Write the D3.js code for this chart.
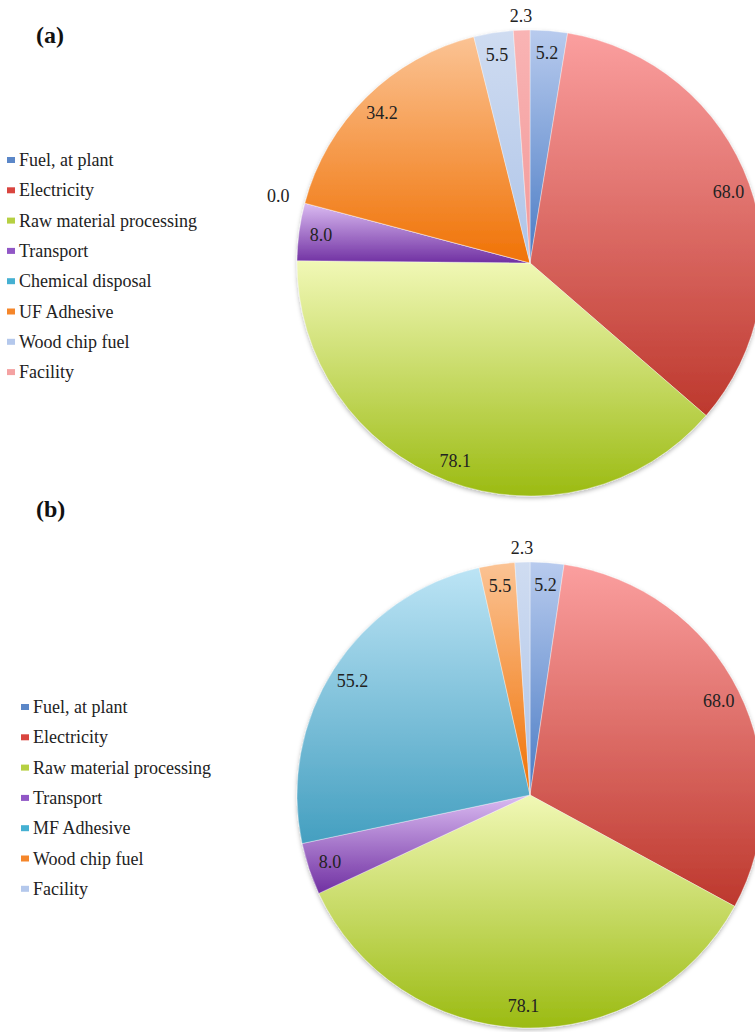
<!DOCTYPE html>
<html>
<head>
<meta charset="utf-8">
<script src="https://d3js.org/d3.v7.min.js"></script>
<style>
  body { margin: 0; background: #fff; }
  text { font-family: "Liberation Serif", "Times New Roman", serif; }
</style>
</head>
<body>
<svg id="chart" width="755" height="1032"></svg>
<script>
// (a) UF adhesive board
const categoriesA = ["Fuel, at plant", "Electricity", "Raw material processing", "Transport",
                     "Chemical disposal", "UF Adhesive", "Wood chip fuel", "Facility"]
const valuesA = [5.2, 68.0, 78.1, 8.0, 0.0, 34.2, 5.5, 2.3]
const colorIdxA = [0, 1, 2, 3, 4, 5, 6, 7]

// (b) MF adhesive board
const categoriesB = ["Fuel, at plant", "Electricity", "Raw material processing", "Transport",
                     "MF Adhesive", "Wood chip fuel", "Facility"]
const valuesB = [5.2, 68.0, 78.1, 8.0, 55.2, 5.5, 2.3]
const colorIdxB = [0, 1, 2, 3, 4, 5, 6]

// gradient colours, top -> bottom, plus legend swatch colour
const palette = [
    { top: "#b8cbee", bottom: "#4a7bc4", key: "#5b87c8" },
    { top: "#fb9f9f", bottom: "#bd382d", key: "#d9453f" },
    { top: "#f1f8b6", bottom: "#9bbb12", key: "#b6d042" },
    { top: "#dbbcf2", bottom: "#7030a2", key: "#9157c6" },
    { top: "#bce4f5", bottom: "#449fc0", key: "#45b0d2" },
    { top: "#fbc394", bottom: "#f07205", key: "#f5862a" },
    { top: "#cfdcf1", bottom: "#aec4e8", key: "#b4c8ec" },
    { top: "#f9b4b4", bottom: "#f29898", key: "#f4a2a2" }
]

const svg = d3.select("#chart")
const defs = svg.append("defs")

palette.forEach((c, i) => {
    const grad = defs.append("linearGradient")
        .attr("id", "grad" + i)
        .attr("x1", 0).attr("y1", 0).attr("x2", 0).attr("y2", 1)
    grad.append("stop").attr("offset", "0%").attr("stop-color", c.top)
    grad.append("stop").attr("offset", "100%").attr("stop-color", c.bottom)
})

const shadow = defs.append("filter").attr("id", "shadow")
    .attr("x", "-10%").attr("y", "-10%").attr("width", "120%").attr("height", "120%")
shadow.append("feDropShadow")
    .attr("dx", 0).attr("dy", 2).attr("stdDeviation", 2)
    .attr("flood-color", "#000").attr("flood-opacity", 0.28)

const radius = 233

function drawPie(cx, cy, values, colorIdx) {
    const g = svg.append("g").attr("transform", `translate(${cx},${cy})`)
    const arcs = d3.pie().sort(null)(values)
    const arc = d3.arc().innerRadius(0).outerRadius(radius)

    g.append("g").attr("filter", "url(#shadow)")
        .selectAll("path")
        .data(arcs)
        .join("path")
        .attr("d", arc)
        .attr("fill", (d, i) => `url(#grad${colorIdx[i]})`)
        .attr("stroke", "#fff")
        .attr("stroke-width", 0.6)
        .attr("stroke-opacity", 0.6)

    g.selectAll("text.value")
        .data(arcs)
        .join("text")
        .attr("class", "value")
        .attr("transform", d => {
            const a = (d.startAngle + d.endAngle) / 2
            const span = d.endAngle - d.startAngle
            const dist = span < 0.1 ? radius + 14 + 14 * Math.abs(Math.sin(a)) : radius - 22
            return `translate(${dist * Math.sin(a)},${-dist * Math.cos(a)})`
        })
        .attr("text-anchor", "middle")
        .attr("dy", "0.35em")
        .attr("font-size", 18)
        .attr("fill", "#222")
        .text(d => d3.format(".1f")(d.data))
}

function drawLegend(x, y, categories, colorIdx) {
    const legend = svg.append("g").attr("transform", `translate(${x},${y})`)
    const rows = legend.selectAll("g")
        .data(categories)
        .join("g")
        .attr("transform", (d, i) => `translate(0,${i * 30.3})`)
    rows.append("rect")
        .attr("x", 0).attr("y", -9)
        .attr("width", 8).attr("height", 6)
        .attr("fill", (d, i) => palette[colorIdx[i]].key)
    rows.append("text")
        .attr("x", 12)
        .attr("font-size", 18)
        .attr("fill", "#222")
        .text(d => d)
}

function drawTag(x, y, t) {
    svg.append("text")
        .attr("x", x).attr("y", y)
        .attr("font-size", 24)
        .attr("font-weight", "bold")
        .attr("fill", "#111")
        .text(t)
}

drawTag(36, 43, "(a)")
drawPie(530, 263, valuesA, colorIdxA)
drawLegend(7, 166, categoriesA, colorIdxA)

drawTag(36, 517, "(b)")
drawPie(530, 795, valuesB, colorIdxB)
drawLegend(21, 713, categoriesB, colorIdxB)
</script>
</body>
</html>
